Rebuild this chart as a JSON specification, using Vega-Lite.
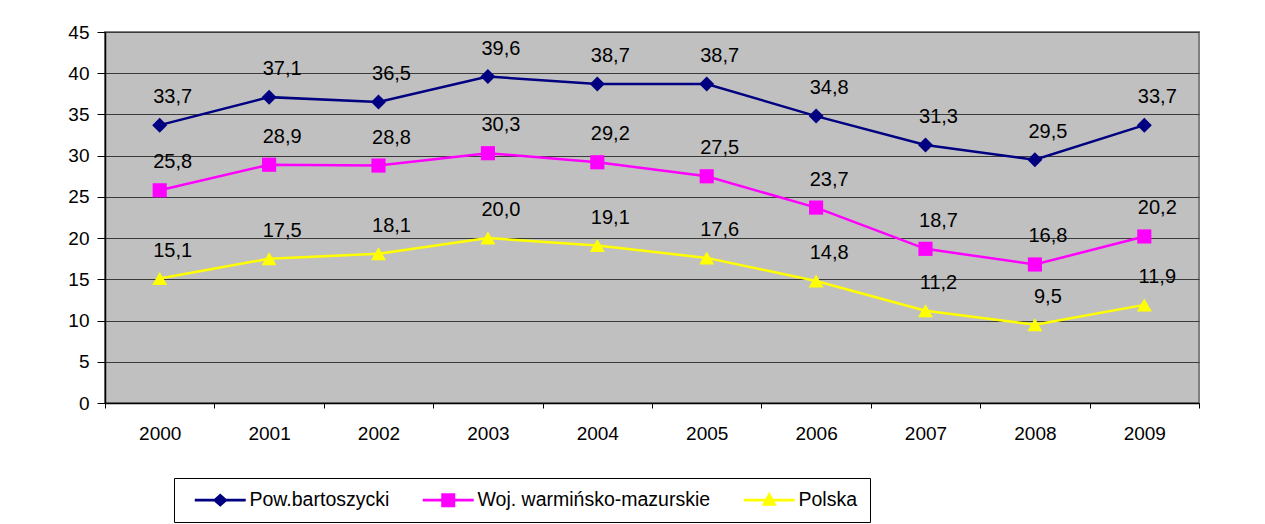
{
  "$schema": "https://vega.github.io/schema/vega-lite/v6.json",
  "width": 1094,
  "height": 371,
  "autosize": {"type": "none"},
  "padding": {"left": 105, "top": 32, "right": 66, "bottom": 121},
  "background": "#ffffff",
  "config": {
    "locale": {"number": {"decimal": ",", "thousands": " ", "grouping": [3], "currency": ["", " zł"]}},
    "font": "Liberation Sans",
    "view": {"fill": "#C0C0C0", "stroke": "#808080", "strokeWidth": 2}
  },
  "data": {
    "values": [
      {"year": 2000, "series": "Pow.bartoszycki", "value": 33.7},
      {"year": 2001, "series": "Pow.bartoszycki", "value": 37.1},
      {"year": 2002, "series": "Pow.bartoszycki", "value": 36.5},
      {"year": 2003, "series": "Pow.bartoszycki", "value": 39.6},
      {"year": 2004, "series": "Pow.bartoszycki", "value": 38.7},
      {"year": 2005, "series": "Pow.bartoszycki", "value": 38.7},
      {"year": 2006, "series": "Pow.bartoszycki", "value": 34.8},
      {"year": 2007, "series": "Pow.bartoszycki", "value": 31.3},
      {"year": 2008, "series": "Pow.bartoszycki", "value": 29.5},
      {"year": 2009, "series": "Pow.bartoszycki", "value": 33.7},
      {"year": 2000, "series": "Woj. warmińsko-mazurskie", "value": 25.8},
      {"year": 2001, "series": "Woj. warmińsko-mazurskie", "value": 28.9},
      {"year": 2002, "series": "Woj. warmińsko-mazurskie", "value": 28.8},
      {"year": 2003, "series": "Woj. warmińsko-mazurskie", "value": 30.3},
      {"year": 2004, "series": "Woj. warmińsko-mazurskie", "value": 29.2},
      {"year": 2005, "series": "Woj. warmińsko-mazurskie", "value": 27.5},
      {"year": 2006, "series": "Woj. warmińsko-mazurskie", "value": 23.7},
      {"year": 2007, "series": "Woj. warmińsko-mazurskie", "value": 18.7},
      {"year": 2008, "series": "Woj. warmińsko-mazurskie", "value": 16.8},
      {"year": 2009, "series": "Woj. warmińsko-mazurskie", "value": 20.2},
      {"year": 2000, "series": "Polska", "value": 15.1},
      {"year": 2001, "series": "Polska", "value": 17.5},
      {"year": 2002, "series": "Polska", "value": 18.1},
      {"year": 2003, "series": "Polska", "value": 20.0},
      {"year": 2004, "series": "Polska", "value": 19.1},
      {"year": 2005, "series": "Polska", "value": 17.6},
      {"year": 2006, "series": "Polska", "value": 14.8},
      {"year": 2007, "series": "Polska", "value": 11.2},
      {"year": 2008, "series": "Polska", "value": 9.5},
      {"year": 2009, "series": "Polska", "value": 11.9}
    ]
  },
  "encoding": {
    "x": {
      "field": "year", "type": "quantitative",
      "scale": {"domain": [1999.5, 2009.5], "nice": false, "zero": false},
      "axis": {
        "title": null,
        "values": [1999.5, 2000.5, 2001.5, 2002.5, 2003.5, 2004.5, 2005.5, 2006.5, 2007.5, 2008.5, 2009.5],
        "labelExpr": "datum.value > 2009 ? '' : '' + (datum.value + 0.5)",
        "labelOffset": 54.7,
        "labelOverlap": false,
        "labelBound": false,
        "labelFlush": false,
        "labelFontSize": 19,
        "labelColor": "#000000",
        "labelPadding": 16,
        "tickSize": 5,
        "tickColor": "#000000",
        "domainColor": "#000000",
        "domainWidth": 1.5,
        "grid": false
      }
    },
    "y": {
      "field": "value", "type": "quantitative",
      "scale": {"domain": [0, 45], "nice": false},
      "axis": {
        "title": null,
        "values": [0, 5, 10, 15, 20, 25, 30, 35, 40, 45],
        "labelFontSize": 19,
        "labelColor": "#000000",
        "labelPadding": 8,
        "tickSize": 8,
        "tickColor": "#000000",
        "domainColor": "#000000",
        "domainWidth": 1.5,
        "grid": true,
        "gridColor": "#3a3a3a",
        "gridWidth": 1.2
      }
    },
    "color": {
      "field": "series", "type": "nominal",
      "scale": {
        "domain": ["Pow.bartoszycki", "Woj. warmińsko-mazurskie", "Polska"],
        "range": ["#000080", "#FF00FF", "#FFFF00"]
      },
      "legend": {
        "title": null,
        "orient": "none",
        "legendX": 69,
        "legendY": 446,
        "direction": "horizontal",
        "strokeColor": "#000000",
        "fillColor": "#ffffff",
        "padding": 12,
        "symbolSize": 196,
        "symbolStrokeWidth": 0,
        "symbolType": {"expr": "datum.value == 'Pow.bartoszycki' ? 'M-0.14,-0.2H7.14V0.2H-0.14Z M2.43,0L3.5,-0.93L4.57,0L3.5,0.93Z' : (datum.value == 'Polska' ? 'M-0.14,-0.2H7.14V0.2H-0.14Z M3.5,-1.2L4.57,0.8H2.43Z' : 'M-0.14,-0.2H7.14V0.2H-0.14Z M2.5,-1H4.5V1H2.5Z')"},
        "labelFontSize": 19.5,
        "labelColor": "#000000",
        "labelLimit": 500,
        "labelOffset": 44,
        "columnPadding": 24,
        "encode": {
          "symbols": {
            "update": {
              "fill": {"scale": "color", "field": "value"},
              "strokeWidth": {"value": 0},
              "opacity": {"value": 1}
            }
          }
        }
      }
    }
  },
  "layer": [
    {
      "mark": {"type": "line", "strokeWidth": 2.5},
      "encoding": {"detail": {"field": "series"}}
    },
    {
      "transform": [{"filter": "datum.series == 'Pow.bartoszycki'"}],
      "mark": {"type": "point", "shape": "diamond", "filled": true, "opacity": 1, "size": 225, "strokeWidth": 0}
    },
    {
      "transform": [{"filter": "datum.series == 'Woj. warmińsko-mazurskie'"}],
      "mark": {"type": "point", "shape": "square", "filled": true, "opacity": 1, "size": 200, "strokeWidth": 0}
    },
    {
      "transform": [{"filter": "datum.series == 'Polska'"}],
      "mark": {"type": "point", "shape": "triangle-up", "filled": true, "opacity": 1, "size": 225, "strokeWidth": 0}
    },
    {
      "mark": {"type": "text", "dx": 13, "dy": -28, "fontSize": 20, "color": "#000000"},
      "encoding": {
        "text": {"field": "value", "type": "quantitative", "format": ".1f"},
        "color": {"value": "#000000"}
      }
    }
  ]
}
